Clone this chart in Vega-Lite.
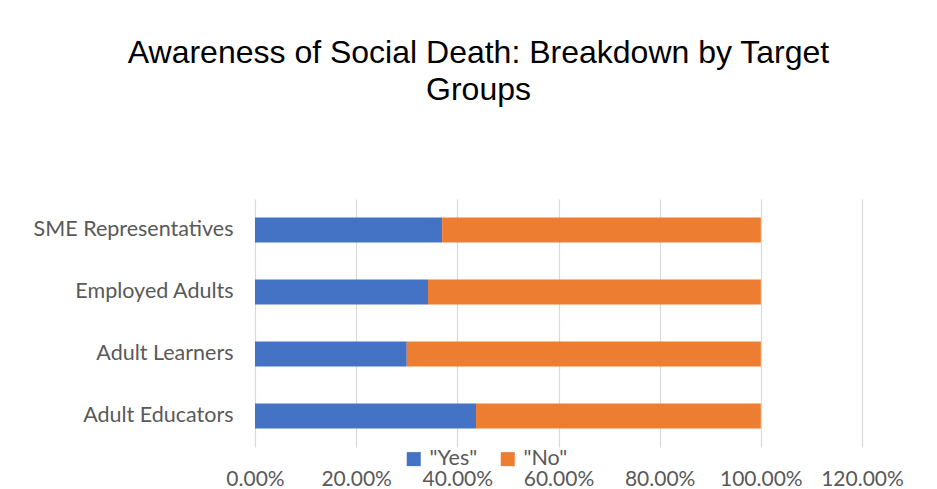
{
  "$schema": "https://vega.github.io/schema/vega-lite/v6.json",
  "autosize": "none",
  "width": 607,
  "height": 248,
  "padding": {"left": 255, "top": 199, "right": 75, "bottom": 42},
  "background": "white",
  "title": {
    "text": ["Awareness of Social Death: Breakdown by Target", "Groups"],
    "anchor": "middle",
    "dx": -80,
    "font": "Liberation Sans",
    "fontSize": 32,
    "fontWeight": "normal",
    "color": "#000000",
    "lineHeight": 37,
    "offset": 92
  },
  "data": {
    "values": [
      {"group": "SME Representatives", "answer": "\"Yes\"", "share": 0.37},
      {"group": "SME Representatives", "answer": "\"No\"", "share": 0.63},
      {"group": "Employed Adults", "answer": "\"Yes\"", "share": 0.342},
      {"group": "Employed Adults", "answer": "\"No\"", "share": 0.658},
      {"group": "Adult Learners", "answer": "\"Yes\"", "share": 0.30},
      {"group": "Adult Learners", "answer": "\"No\"", "share": 0.70},
      {"group": "Adult Educators", "answer": "\"Yes\"", "share": 0.437},
      {"group": "Adult Educators", "answer": "\"No\"", "share": 0.563}
    ]
  },
  "mark": {"type": "bar"},
  "encoding": {
    "y": {
      "field": "group",
      "type": "nominal",
      "sort": ["SME Representatives", "Employed Adults", "Adult Learners", "Adult Educators"],
      "scale": {"paddingInner": 0.6, "paddingOuter": 0.3},
      "axis": {
        "title": null,
        "domain": false,
        "ticks": false,
        "grid": false,
        "labelPadding": 22,
        "labelLimit": 0,
        "labelFont": "Lato",
        "labelFontSize": 21.5,
        "labelColor": "#595959"
      }
    },
    "x": {
      "field": "share",
      "type": "quantitative",
      "stack": "zero",
      "scale": {"domain": [0, 1.2], "nice": false},
      "axis": {
        "title": null,
        "values": [0, 0.2, 0.4, 0.6, 0.8, 1.0, 1.2],
        "format": ".2%",
        "domain": false,
        "ticks": false,
        "grid": true,
        "gridColor": "#d9d9d9",
        "gridWidth": 1.2,
        "labelPadding": 21,
        "labelFont": "Lato",
        "labelFontSize": 21,
        "labelColor": "#595959",
        "labelFlush": false
      }
    },
    "color": {
      "field": "answer",
      "type": "nominal",
      "scale": {"domain": ["\"Yes\"", "\"No\""], "range": ["#4472C4", "#ED7D31"]},
      "legend": {
        "title": null,
        "orient": "none",
        "direction": "horizontal",
        "legendX": 148,
        "legendY": 249,
        "padding": 0,
        "symbolType": "square",
        "symbolSize": 196,
        "symbolStrokeWidth": 0,
        "symbolOpacity": 1,
        "labelFont": "Lato",
        "labelFontSize": 21.5,
        "labelColor": "#595959",
        "labelOffset": 5,
        "columnPadding": 19
      }
    },
    "order": {"field": "answer", "sort": "descending"}
  },
  "config": {
    "view": {"stroke": null}
  }
}
